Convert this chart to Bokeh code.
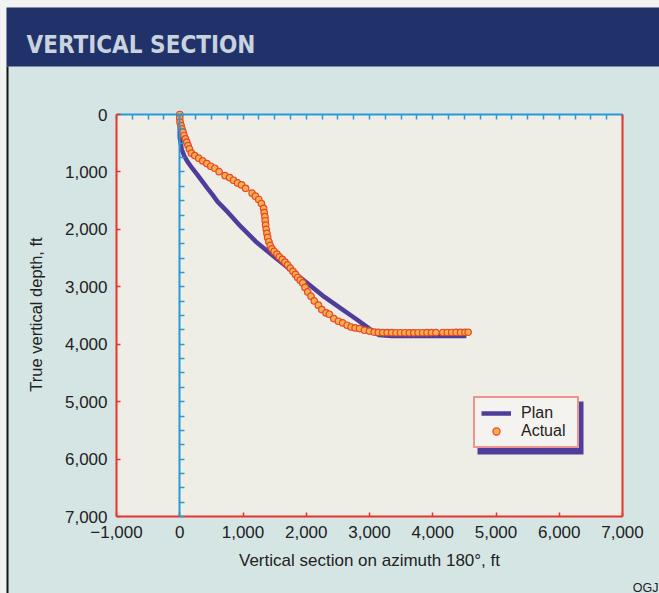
from bokeh.plotting import figure
from bokeh.models import (Range1d, LinearAxis, FixedTicker, Label, BoxAnnotation,
                          Legend, LegendItem)
from bokeh.embed import file_html
from bokeh.resources import INLINE

# ---------------- data ----------------
plan_vs = [0, 0, 30, 70, 122, 200, 280, 360, 439, 520, 597, 760, 967, 1200,
           1494, 1760, 2024, 2287, 2552, 2816, 2974, 3070, 3150, 3350, 4532]
plan_tvd = [0, 400, 600, 720, 820, 940, 1052, 1170, 1285, 1400, 1518, 1700, 1954,
            2210, 2478, 2710, 2943, 3176, 3379, 3583, 3710, 3790, 3840, 3855, 3855]

actual_vs = [0, 0, 5, 21, 36, 52, 68, 90, 111, 132, 154, 185, 238, 301, 364, 428,
             491, 555, 623, 718, 788, 851, 914, 978, 1041, 1145, 1196, 1249, 1292,
             1326, 1336, 1347, 1352, 1358, 1368, 1379, 1390, 1410, 1431, 1458, 1494,
             1537, 1574, 1621, 1664, 1706, 1748, 1790, 1830, 1865, 1905, 1944, 1981,
             2024, 2076, 2128, 2192, 2246, 2314, 2366, 2436, 2509, 2578, 2647, 2710,
             2773, 2842, 2921, 3000, 3075, 3140, 3210, 3280, 3350, 3420, 3490, 3560,
             3630, 3700, 3770, 3840, 3910, 3980, 4050, 4160, 4230, 4300, 4370, 4440,
             4510, 4560]
actual_tvd = [0, 60, 133, 192, 250, 307, 366, 424, 482, 541, 599, 674, 715, 761,
              808, 855, 901, 936, 995, 1065, 1099, 1145, 1192, 1227, 1285, 1370, 1422,
              1480, 1550, 1634, 1710, 1780, 1850, 1925, 2000, 2070, 2140, 2216, 2279,
              2339, 2384, 2431, 2478, 2524, 2571, 2618, 2675, 2730, 2785, 2838, 2885,
              2932, 3012, 3089, 3164, 3246, 3321, 3396, 3455, 3478, 3553, 3600, 3630,
              3670, 3700, 3717, 3728, 3757, 3772, 3788, 3795, 3797, 3798, 3799, 3800,
              3800, 3800, 3801, 3801, 3800, 3800, 3799, 3798, 3797, 3796, 3796, 3796,
              3795, 3794, 3793, 3792]

x_ticks = [-1000, 0, 1000, 2000, 3000, 4000, 5000, 6000, 7000]
x_tick_labels = ["\u22121,000", "0", "1,000", "2,000", "3,000", "4,000", "5,000",
                 "6,000", "7,000"]
y_ticks = [0, 1000, 2000, 3000, 4000, 5000, 6000, 7000]
y_tick_labels = ["0", "1,000", "2,000", "3,000", "4,000", "5,000", "6,000", "7,000"]
fine_x_ticks = list(range(-1000, 7001, 250))
fine_y_ticks = list(range(0, 7001, 250))

# ---------------- layout (pixels) and styles ----------------
W, H = 659, 593
PX_L, PX_R, PX_T, PX_B = 116, 622, 114, 516        # plot box on the canvas
X0, X1, Y0, Y1 = -1000, 7000, 0, 7000               # axis extents
fx = (X1 - X0) / (PX_R - PX_L)
fy = (Y1 - Y0) / (PX_B - PX_T)

FONT = "Liberation Sans"
RED = "#e8352c"
BLUE = "#2a9ad4"
PURPLE = "#4d3e9c"
DOT_FILL = "#f6b04a"
DOT_LINE = "#e8452c"
TXT = "#222222"

p = figure(width=W, height=H, min_border=0, title=None,
           x_range=Range1d(X0 - PX_L * fx, X1 + (W - PX_R) * fx),
           y_range=Range1d(Y1 + (H - PX_B) * fy, Y0 - PX_T * fy),
           output_backend="svg", toolbar_location=None,
           x_axis_location=None, y_axis_location=None,
           background_fill_color="#d5e5e3", border_fill_color="#d5e5e3",
           outline_line_color=None)
p.xgrid.visible = False
p.ygrid.visible = False


def sbox(left, right, bottom, top, color, level="underlay"):
    return BoxAnnotation(left=left, right=right, bottom=bottom, top=top,
                         left_units="screen", right_units="screen",
                         bottom_units="screen", top_units="screen",
                         fill_color=color, fill_alpha=1, line_color=None, level=level)


# page furniture: white page edge, black rule, title band
p.add_layout(sbox(0, W, H - 7, H, "#f3f3f1"))
p.add_layout(sbox(0, 6, 0, H, "#f3f3f1"))
p.add_layout(sbox(6, 8, 0, H - 66, "#151515"))
p.add_layout(sbox(6, W, H - 66, H - 7, "#21326a"))

# cream plot area (data units)
p.add_layout(BoxAnnotation(left=X0, right=X1, top=Y0, bottom=Y1,
                           fill_color="#eeede6", fill_alpha=1, line_color=None,
                           level="underlay"))

common = dict(minor_tick_line_color=None, axis_line_width=2, major_tick_line_width=1.5)

left = LinearAxis(fixed_location=X0, bounds=(Y0, Y1), ticker=FixedTicker(ticks=y_ticks),
                  major_label_overrides=dict(zip(y_ticks, y_tick_labels)),
                  axis_line_color=RED, major_tick_line_color=RED,
                  major_tick_in=4, major_tick_out=0,
                  major_label_text_font=FONT, major_label_text_font_size="17px",
                  major_label_text_color=TXT, major_label_standoff=9, **common)
p.add_layout(left, "left")

bottom = LinearAxis(fixed_location=Y1, bounds=(X0, X1), ticker=FixedTicker(ticks=x_ticks),
                    major_label_overrides=dict(zip(x_ticks, x_tick_labels)),
                    axis_line_color=RED, major_tick_line_color=RED,
                    major_tick_in=4, major_tick_out=0,
                    major_label_text_font=FONT, major_label_text_font_size="17px",
                    major_label_text_color=TXT, major_label_standoff=9,
                    axis_label="Vertical section on azimuth 180\u00b0, ft",
                    axis_label_text_font=FONT, axis_label_text_font_size="17px",
                    axis_label_text_font_style="normal", axis_label_text_color=TXT,
                    axis_label_standoff=10, **common)
p.add_layout(bottom, "below")

top = LinearAxis(fixed_location=Y0, bounds=(X0, X1), ticker=FixedTicker(ticks=fine_x_ticks),
                 axis_line_color=BLUE, major_tick_line_color=BLUE,
                 major_tick_in=5, major_tick_out=0,
                 major_label_text_color=None, **common)
p.add_layout(top, "above")

right = LinearAxis(fixed_location=X1, bounds=(Y0, Y1), ticker=FixedTicker(ticks=[]),
                   axis_line_color=RED, major_tick_line_color=None,
                   major_label_text_color=None, **common)
p.add_layout(right, "right")

zero_axis = LinearAxis(fixed_location=0, bounds=(Y0, Y1),
                       ticker=FixedTicker(ticks=fine_y_ticks),
                       axis_line_color=BLUE, major_tick_line_color=BLUE,
                       major_tick_in=0, major_tick_out=5,
                       major_label_text_color=None, **common)
p.add_layout(zero_axis, "right")

r_plan = p.line(plan_vs, plan_tvd, line_color=PURPLE, line_width=4.5)
r_act = p.scatter(actual_vs, actual_tvd, size=6.5, fill_color=DOT_FILL,
                  line_color=DOT_LINE, line_width=1.2)

# texts
p.add_layout(Label(x=26, y=H - 44, x_units="screen", y_units="screen",
                   text="VERTICAL SECTION",
                   text_font="DejaVu Sans Condensed",
                   text_font_style="bold", text_font_size="24px",
                   text_color="#c8d3de", text_baseline="alphabetic"))

p.add_layout(Label(x=35, y=H - 314, x_units="screen", y_units="screen",
                   text="True vertical depth, ft", angle=90, angle_units="deg",
                   text_align="center", text_baseline="middle",
                   text_font=FONT, text_font_size="16.5px", text_color=TXT))

p.add_layout(Label(x=658, y=H - 587, x_units="screen", y_units="screen", text="OGJ",
                   text_align="right", text_baseline="middle",
                   text_font=FONT, text_font_size="12.5px", text_color=TXT))

# legend with offset shadow
p.add_layout(sbox(477, 583, H - 454, H - 401, PURPLE, level="annotation"))

legend = Legend(items=[LegendItem(label="Plan", renderers=[r_plan]),
                       LegendItem(label="Actual", renderers=[r_act])],
                location=(473, H - 448), padding=6, spacing=0, margin=0,
                glyph_width=30, glyph_height=18, label_height=18, label_width=50,
                label_standoff=10,
                label_text_font=FONT, label_text_font_size="16px",
                label_text_color=TXT,
                border_line_color=RED, border_line_width=2,
                background_fill_color="#f5f3ef", background_fill_alpha=1)
p.add_layout(legend)

open("out.html", "w").write(file_html(p, INLINE))
